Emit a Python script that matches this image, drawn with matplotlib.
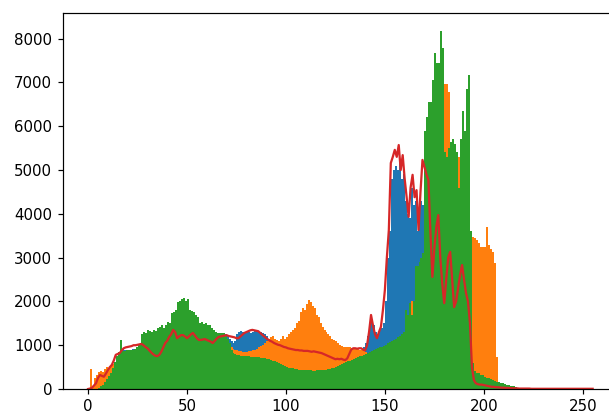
import numpy as np
import matplotlib
matplotlib.use("Agg")
import matplotlib.pyplot as plt

# one value per intensity level 0..255
levels = np.arange(256)

blue = [
    0, 0, 0, 50, 100, 150, 200, 250, 300, 350, 400, 450, 500, 550, 600, 650,
    700, 920, 900, 800, 850, 850, 920, 850, 900, 950, 1000, 1020, 1000, 1000, 1050, 1050,
    1050, 1100, 1100, 1150, 1150, 1200, 1200, 1200, 1250, 1250, 1300, 1300, 1300, 1350, 1350, 1350,
    1350, 1350, 1300, 1300, 1300, 1300, 1250, 1250, 1250, 1200, 1200, 1200, 1150, 1150, 1150, 1100,
    1100, 1100, 1100, 1080, 1080, 1250, 1200, 1150, 1100, 1050, 1100, 1250, 1300, 1320, 1300, 1300,
    1320, 1300, 1280, 1300, 1320, 1330, 1300, 1300, 1280, 1250, 1200, 1150, 900, 850, 800, 800,
    800, 800, 800, 800, 800, 800, 800, 800, 800, 800, 800, 800, 800, 800, 800, 800,
    800, 800, 800, 800, 800, 800, 800, 800, 800, 800, 800, 800, 800, 800, 800, 800,
    800, 800, 800, 800, 800, 800, 800, 800, 820, 850, 900, 950, 1050, 1200, 1450, 1600,
    1450, 1300, 1250, 1350, 1400, 1500, 2000, 3000, 3600, 4800, 5000, 5100, 5000, 5200, 4800, 4900,
    4300, 4000, 3900, 4600, 4200, 4300, 3600, 4100, 4300, 4200, 4500, 4500, 4000, 3500, 3000, 3000,
    3000, 3000, 3000, 2800, 2800, 2800, 2600, 2600, 2600, 2500, 2500, 2500, 2400, 2400, 2300, 2300,
    2200, 2200, 2000, 2000, 1800, 1800, 1600, 1500, 1400, 1200, 1000, 800, 600, 400, 200, 100,
    50, 30, 20, 10, 0, 0, 0, 0, 0, 0, 0, 0, 0, 0, 0, 0,
    0, 0, 0, 0, 0, 0, 0, 0, 0, 0, 0, 0, 0, 0, 0, 0,
    0, 0, 0, 0, 0, 0, 0, 0, 0, 0, 0, 0, 0, 0, 0, 0,
]

orange = [
    0, 450, 80, 250, 330, 380, 420, 380, 450, 500, 480, 540, 580, 600, 650, 700,
    780, 800, 800, 820, 830, 830, 840, 850, 880, 900, 920, 950, 1000, 1050, 1100, 1150,
    1150, 1150, 1200, 1200, 1220, 1250, 1250, 1280, 1300, 1300, 1350, 1350, 1400, 1400, 1450, 1450,
    1450, 1400, 1400, 1380, 1350, 1350, 1300, 1300, 1280, 1250, 1250, 1200, 1200, 1150, 1150, 1100,
    1100, 1050, 1050, 1000, 1000, 980, 960, 950, 950, 920, 900, 880, 870, 860, 850, 850,
    850, 860, 870, 880, 900, 920, 950, 980, 1000, 1050, 1100, 1150, 1180, 1200, 1150, 1120,
    1100, 1150, 1200, 1150, 1180, 1250, 1300, 1350, 1400, 1500, 1550, 1750, 1850, 1800, 1950, 2030,
    1990, 1900, 1850, 1700, 1650, 1500, 1420, 1350, 1300, 1250, 1200, 1150, 1120, 1100, 1050, 1000,
    980, 960, 960, 950, 960, 940, 930, 920, 920, 900, 880, 860, 850, 830, 800, 780,
    760, 740, 720, 720, 740, 760, 800, 850, 900, 950, 1000, 1050, 1100, 1150, 1200, 1250,
    1300, 1400, 1500, 2000, 1600, 1800, 2000, 2200, 2400, 2600, 4000, 5000, 6000, 6500, 7000, 7200,
    7300, 7400, 7500, 7000, 6960, 6960, 6780, 5200, 5000, 4800, 4600, 5300, 4500, 4400, 4300, 4200,
    4000, 3500, 3470, 3450, 3400, 3330, 3240, 3240, 3250, 3700, 3290, 3200, 3130, 2880, 730, 150,
    100, 80, 60, 50, 40, 30, 20, 10, 0, 0, 0, 0, 0, 0, 0, 0,
    0, 0, 0, 0, 0, 0, 0, 0, 0, 0, 0, 0, 0, 0, 0, 0,
    0, 0, 0, 0, 0, 0, 0, 0, 0, 0, 0, 0, 0, 0, 0, 0,
]

green = [
    0, 0, 0, 0, 10, 30, 60, 100, 160, 220, 300, 370, 480, 620, 760, 850,
    1120, 870, 860, 880, 900, 890, 900, 920, 960, 1000, 1050, 1250, 1300, 1280, 1350, 1330,
    1300, 1350, 1320, 1400, 1420, 1450, 1400, 1460, 1530, 1500, 1730, 1760, 1800, 1990, 2000, 2050,
    2080, 2000, 2060, 1800, 1780, 1760, 1700, 1650, 1500, 1520, 1480, 1500, 1450, 1470, 1400, 1350,
    1300, 1280, 1290, 1270, 1280, 1200, 1150, 1050, 900, 820, 790, 780, 770, 760, 760, 750,
    750, 745, 740, 735, 730, 725, 720, 715, 710, 700, 690, 680, 670, 650, 630, 610,
    590, 570, 550, 530, 510, 490, 480, 470, 460, 450, 440, 435, 430, 430, 425, 430,
    425, 420, 420, 430, 425, 430, 440, 435, 445, 450, 450, 470, 490, 510, 530, 550,
    570, 590, 610, 630, 650, 670, 690, 710, 730, 750, 760, 780, 800, 820, 850, 870,
    890, 910, 930, 950, 970, 990, 1010, 1040, 1070, 1090, 1110, 1140, 1180, 1220, 1260, 1300,
    1800, 1700, 1960, 1700, 2000, 2800, 2800, 2900, 3000, 3100, 5900, 6200, 6560, 6560, 7050, 7670,
    7440, 7440, 8170, 7780, 5400, 5300, 5500, 5650, 5700, 5600, 5400, 4600, 5700, 6350, 5900, 6850,
    7170, 3600, 600, 400, 370, 360, 330, 320, 280, 260, 240, 220, 200, 180, 160, 150,
    140, 130, 110, 100, 90, 80, 70, 60, 40, 20, 10, 5, 0, 0, 0, 0,
    0, 0, 0, 0, 0, 0, 0, 0, 0, 0, 0, 0, 0, 0, 0, 0,
    0, 0, 0, 0, 0, 0, 0, 0, 0, 0, 0, 0, 0, 0, 0, 0,
]

gray_line = [
    0, 10, 30, 80, 130, 250, 320, 300, 280, 350, 430, 500, 550, 650, 780, 800,
    820, 880, 930, 950, 960, 970, 980, 1000, 1000, 1010, 1020, 1030, 1000, 960, 930, 880,
    830, 790, 760, 750, 780, 850, 950, 1050, 1100, 1190, 1250, 1350, 1300, 1160, 1200, 1230,
    1230, 1200, 1160, 1200, 1250, 1280, 1220, 1160, 1120, 1120, 1130, 1140, 1120, 1100, 1080, 1050,
    1100, 1150, 1190, 1200, 1210, 1220, 1230, 1210, 1200, 1190, 1180, 1160, 1160, 1200, 1240, 1280,
    1300, 1320, 1340, 1350, 1340, 1330, 1320, 1280, 1240, 1200, 1160, 1130, 1100, 1080, 1050, 1030,
    1010, 1000, 980, 960, 950, 930, 920, 910, 900, 890, 890, 880, 880, 870, 870, 870,
    860, 850, 860, 850, 840, 830, 820, 800, 780, 760, 740, 720, 700, 680, 690, 680,
    690, 670, 660, 700, 800, 900, 930, 930, 920, 930, 930, 900, 880, 1000, 1300, 1690,
    1450, 1250, 1160, 1300, 1420, 1800, 2260, 3000, 3630, 5160, 5300, 5460, 5300, 5570, 5000, 5340,
    4800, 4380, 3930, 4600, 4890, 4380, 4540, 3630, 4500, 5230, 5070, 4900, 4770, 3600, 2560, 3200,
    3700, 3970, 3000, 2400, 1960, 2500, 3000, 3130, 2500, 1870, 2000, 2300, 2600, 2830, 2500, 2190,
    2000, 1500, 500, 200, 130, 110, 100, 100, 90, 80, 70, 60, 50, 50, 40, 40,
    35, 30, 30, 25, 25, 20, 20, 15, 15, 15, 10, 10, 10, 10, 10, 10,
    5, 5, 5, 5, 5, 5, 5, 5, 5, 5, 5, 5, 5, 5, 5, 5,
    5, 5, 5, 5, 5, 5, 5, 5, 5, 5, 5, 5, 5, 5, 5, 5,
]

fig = plt.figure(figsize=(609 / 108, 412 / 108), dpi=108)
ax = fig.add_axes([0.103, 0.0558, 0.915, 0.912])

edges = np.arange(257)
for counts, col in zip((blue, orange, green), ("C0", "C1", "C2")):
    ax.hist(levels, bins=edges, weights=counts, color=col)
ax.plot(levels, gray_line, color="C3")
ax.tick_params(axis="x", pad=3)

fig.savefig("out.png", dpi=108)
